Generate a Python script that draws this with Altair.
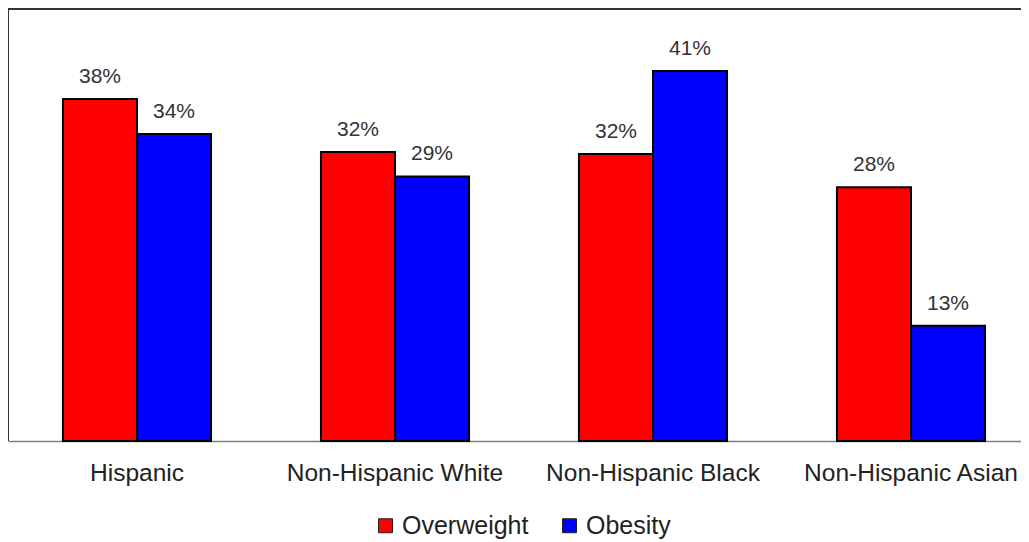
import altair as alt
import pandas as pd

groups = ["Hispanic", "Non-Hispanic White", "Non-Hispanic Black", "Non-Hispanic Asian"]
overweight = [38.0, 32.1, 31.9, 28.2]
obesity = [34.1, 29.4, 41.1, 12.8]
series = ["Overweight", "Obesity"]
colors = ["#FF0000", "#0000FF"]

rows = []
for g, ow, ob in zip(groups, overweight, obesity):
    rows.append({"group": g, "series": "Overweight", "value": ow, "label": f"{round(ow)}%"})
    rows.append({"group": g, "series": "Obesity", "value": ob, "label": f"{round(ob)}%"})
df = pd.DataFrame(rows)

font = "Liberation Sans"
W, H = 1013, 432

x = alt.X("group:N", sort=groups, title=None,
          scale=alt.Scale(paddingInner=0.426, paddingOuter=0.213, range=[0, 1032]),
          axis=alt.Axis(labelAngle=0, ticks=False, labelFontSize=24.5, labelFont=font,
                        labelColor="#222222", labelPadding=20, labelBaseline="top",
                        domainColor="#808080", domainWidth=1.5, labelLimit=400))
y = alt.Y("value:Q", scale=alt.Scale(domain=[0, 48], nice=False), axis=None)
xo = alt.XOffset("series:N", sort=series)
color = alt.Color("series:N", sort=series, title=None,
                  scale=alt.Scale(domain=series, range=colors),
                  legend=alt.Legend(orient="none", direction="horizontal", legendX=365, legendY=504,
                                    symbolType="square", symbolSize=196, symbolStrokeColor="#222222",
                                    symbolStrokeWidth=1, labelFontSize=25, labelFont=font,
                                    labelColor="#222222", labelOffset=4, columnPadding=28))

bars = alt.Chart(df).mark_bar(stroke="black", strokeWidth=2).encode(
    x=x, xOffset=xo, y=y, color=color)

text = alt.Chart(df).mark_text(baseline="alphabetic", dy=-16, fontSize=21, font=font,
                               color="#333333").encode(
    x=x, xOffset=xo, y=y, text="label:N")

frame_top = alt.Chart(df).mark_rule(color="#333333", strokeWidth=2).encode(
    x=alt.value(0), x2=alt.value(W), y=alt.value(0))
frame_left = alt.Chart(df).mark_rule(color="#333333", strokeWidth=2).encode(
    x=alt.value(0), y=alt.value(0), y2=alt.value(H))

chart = (frame_top + frame_left + bars + text).properties(
    width=W, height=H,
    autosize=alt.AutoSizeParams(type="none"),
    padding={"left": 0, "top": 1, "right": 0, "bottom": 102},
).configure_view(stroke=None).configure(background="white")

chart.save("out.html", embed_options={"renderer": "svg", "actions": False})
